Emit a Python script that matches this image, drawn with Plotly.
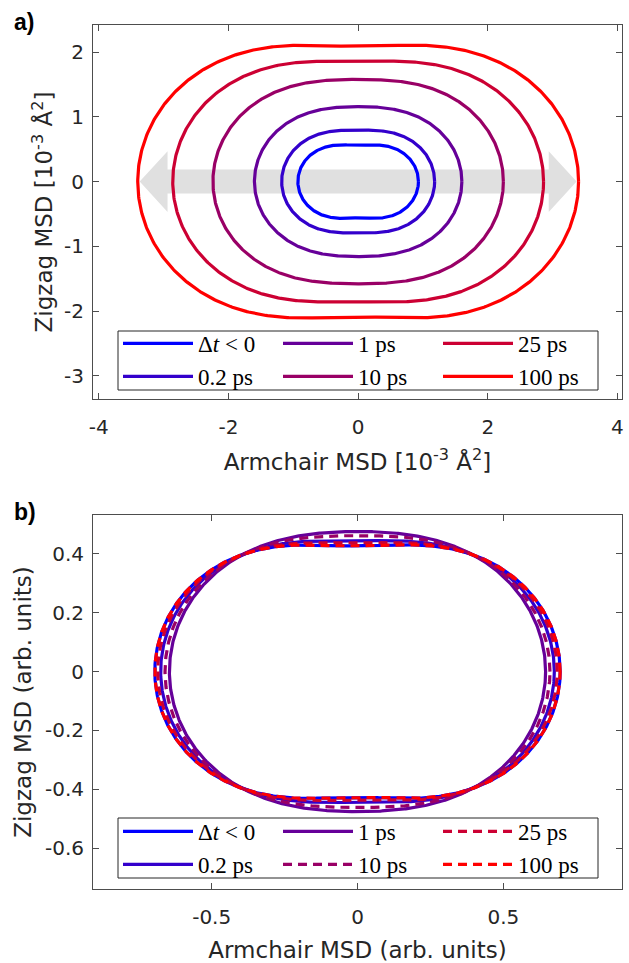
import numpy as np
import plotly.graph_objects as go
from plotly.subplots import make_subplots

# ---------------- data ----------------
labels = ["Δ<i>t</i> &lt; 0", "0.2 ps", "1 ps", "10 ps", "25 ps", "100 ps"]
colors = ["#0000ff", "#3300cc", "#660099", "#990066", "#cc0033", "#ff0000"]
legend_rank = [1, 4, 2, 5, 3, 6]

# panel a: armchair / zigzag MSD (10^-3 Å^2)
armchair_msd = [0.93, 1.18, 1.60, 2.24, 2.86, 3.40]
zigzag_msd = [0.56, 0.795, 1.16, 1.58, 1.86, 2.09]

# panel b: normalised armchair / zigzag MSD (arb. units)
armchair_norm = [0.695, 0.675, 0.645, 0.660, 0.685, 0.695]
zigzag_norm = [0.427, 0.445, 0.476, 0.462, 0.437, 0.427]
dashed_b = [False, False, False, True, True, True]

xticks_a = [-4, -2, 0, 2, 4]
yticks_a = [2, 1, 0, -1, -2, -3]
xticks_b = [-0.5, 0, 0.5]
yticks_b = [0.4, 0.2, 0, -0.2, -0.4, -0.6]

# ---------------- geometry ----------------
W, H = 629, 963
ML, MR, MT, MB = 93, 7, 25, 74
plot_w = W - ML - MR
plot_h = H - MT - MB
dom_a = [(889 - 399) / plot_h, 1.0]
dom_b = [0.0, (889 - 515) / plot_h]


def px_x(p):
    return (p - ML) / plot_w


def px_y(p):
    return (H - MB - p) / plot_h


theta = np.linspace(0, 2 * np.pi, 721)


def msd_curve(a, b):
    # angular MSD of the 2D tensor diag(a, b): r(θ) = a cos²θ + b sin²θ
    r = a * np.cos(theta) ** 2 + b * np.sin(theta) ** 2
    return r * np.cos(theta), r * np.sin(theta)


fig = make_subplots(rows=2, cols=1)

# arrow (armchair direction) in panel a
tip, head_len, shaft_h, head_h = 3.37, 0.43, 0.185, 0.47
hb = tip - head_len
arrow_path = (f"M {-tip},0 L {-hb},{head_h} L {-hb},{shaft_h} L {hb},{shaft_h} L {hb},{head_h} "
              f"L {tip},0 L {hb},{-head_h} L {hb},{-shaft_h} L {-hb},{-shaft_h} L {-hb},{-head_h} Z")
fig.add_shape(type="path", path=arrow_path, xref="x", yref="y", fillcolor="#e0e0e0",
              line=dict(width=0), layer="below")

for i in range(6):
    x, y = msd_curve(armchair_msd[i], zigzag_msd[i])
    fig.add_trace(go.Scatter(x=x, y=y, mode="lines", name=labels[i],
                             line=dict(color=colors[i], width=3.2),
                             legend="legend", legendrank=legend_rank[i]), row=1, col=1)

for i in range(6):
    x, y = msd_curve(armchair_norm[i], zigzag_norm[i])
    fig.add_trace(go.Scatter(x=x, y=y, mode="lines", name=labels[i],
                             line=dict(color=colors[i], width=3.2,
                                       dash="9px,6px" if dashed_b[i] else "solid"),
                             legend="legend2", legendrank=legend_rank[i]), row=2, col=1)

axcol = "#4d4d4d"
txtcol = "#262626"
sans = "DejaVu Sans"
ax_common = dict(showline=True, linecolor=axcol, linewidth=1, mirror="ticks", ticks="inside",
                 ticklen=6, tickcolor=axcol, showgrid=False, zeroline=False, automargin=False,
                 tickfont=dict(family=sans, size=20, color=txtcol),
                 title_font=dict(family=sans, size=23, color=txtcol))
xax = dict(**ax_common, ticklabelstandoff=10)
yax = dict(**ax_common, ticklabelstandoff=4)


def fmt(v):
    return f"{v:g}"


fig.update_xaxes(**xax, range=[-4.09, 4.07], tickvals=xticks_a,
                 ticktext=[fmt(v) for v in xticks_a],
                 title=dict(text="Armchair MSD [10<sup>-3</sup> Å<sup>2</sup>]", standoff=15),
                 row=1, col=1)
fig.update_yaxes(**yax, range=[-3.36, 2.42], tickvals=yticks_a,
                 ticktext=[fmt(v) for v in yticks_a],
                 title=dict(text="Zigzag MSD [10<sup>-3</sup> Å<sup>2</sup>]", standoff=4),
                 row=1, col=1)
fig.update_xaxes(**xax, range=[-0.907, 0.907], tickvals=xticks_b,
                 ticktext=[fmt(v) for v in xticks_b],
                 title=dict(text="Armchair MSD (arb. units)", standoff=14), row=2, col=1)
fig.update_yaxes(**yax, range=[-0.739, 0.532], tickvals=yticks_b,
                 ticktext=[fmt(v) for v in yticks_b],
                 title=dict(text="Zigzag MSD (arb. units)", standoff=6), row=2, col=1)
fig.update_layout(xaxis=dict(domain=[0, 1]), yaxis=dict(domain=dom_a),
                  xaxis2=dict(domain=[0, 1]), yaxis2=dict(domain=dom_b))

# legend frames (boxes) drawn as shapes, entries as real legends
for (x0, y0, x1, y1) in [(118, 331, 598, 390), (118, 818, 598, 878)]:
    fig.add_shape(type="rect", xref="paper", yref="paper",
                  x0=px_x(x0), x1=px_x(x1), y0=px_y(y1), y1=px_y(y0),
                  fillcolor="white", line=dict(color=txtcol, width=1), layer="above")

leg_common = dict(orientation="h", xanchor="left", yanchor="top", entrywidth=75,
                  itemwidth=70, bgcolor="rgba(0,0,0,0)", borderwidth=0,
                  font=dict(family="Liberation Serif", size=23, color="black"),
                  tracegroupgap=0, traceorder="normal")
fig.update_layout(
    legend=dict(**leg_common, x=px_x(118), y=px_y(322)),
    legend2=dict(**leg_common, x=px_x(118), y=px_y(810)),
)

for txt, yc in [("a)", 22), ("b)", 512)]:
    fig.add_annotation(text=f"<b>{txt}</b>", xref="paper", yref="paper", x=px_x(12), y=px_y(yc),
                       xanchor="left", yanchor="middle", showarrow=False,
                       font=dict(family="Liberation Sans", size=23, color="black"))

fig.update_layout(width=W, height=H, margin=dict(l=ML, r=MR, t=MT, b=MB, autoexpand=False),
                  plot_bgcolor="white", paper_bgcolor="white", showlegend=True)

fig.write_html("out.html")
